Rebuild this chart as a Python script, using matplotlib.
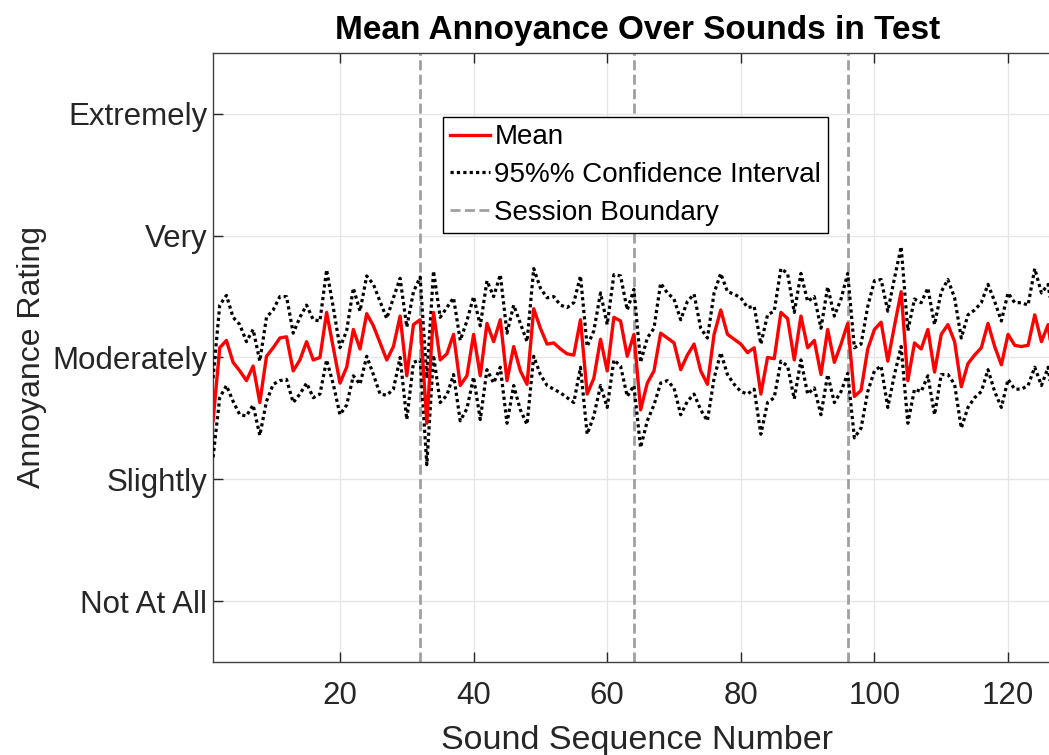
import numpy as np
import matplotlib
matplotlib.use("Agg")
import matplotlib.pyplot as plt

plt.rcParams['font.family'] = ['Liberation Sans', 'DejaVu Sans']

rating_labels = ["Not At All", "Slightly", "Moderately", "Very", "Extremely"]
session_bounds = [32, 64, 96]

mean_rating = [
    1.48, 2.08, 2.14, 1.96, 1.89, 1.81, 1.93, 1.63, 2.01, 2.08,
    2.16, 2.17, 1.89, 1.98, 2.13, 1.98, 2.00, 2.37, 2.08, 1.79,
    1.92, 2.23, 2.07, 2.36, 2.26, 2.12, 1.98, 2.09, 2.34, 1.85,
    2.27, 2.31, 1.46, 2.37, 1.98, 2.03, 2.19, 1.77, 1.85, 2.19,
    1.85, 2.28, 2.13, 2.31, 1.81, 2.09, 1.89, 1.78, 2.40, 2.24,
    2.11, 2.12, 2.07, 2.03, 2.02, 2.31, 1.70, 1.83, 2.15, 1.89,
    2.33, 2.30, 2.01, 2.19, 1.57, 1.79, 1.89, 2.20, 2.16, 2.12,
    1.90, 2.02, 2.11, 1.89, 1.78, 2.19, 2.39, 2.19, 2.15, 2.11,
    2.04, 2.08, 1.70, 2.00, 1.99, 2.37, 2.32, 1.98, 2.34, 2.08,
    2.14, 1.86, 2.23, 1.96, 2.11, 2.28, 1.68, 1.73, 2.07, 2.23,
    2.29, 1.97, 2.26, 2.54, 1.81, 2.12, 2.07, 2.23, 1.88, 2.19,
    2.27, 2.13, 1.76, 1.95, 2.02, 2.08, 2.28, 2.09, 1.94, 2.19,
    2.10, 2.09, 2.10, 2.35, 2.13, 2.27, 1.86, 2.05,
]

ci_upper = [
    1.83, 2.43, 2.51, 2.33, 2.27, 2.13, 2.23, 1.97, 2.33, 2.39,
    2.50, 2.50, 2.20, 2.33, 2.43, 2.31, 2.30, 2.72, 2.41, 2.08,
    2.22, 2.57, 2.38, 2.67, 2.60, 2.46, 2.32, 2.49, 2.65, 2.25,
    2.54, 2.66, 1.83, 2.71, 2.33, 2.41, 2.49, 2.14, 2.30, 2.50,
    2.26, 2.63, 2.50, 2.68, 2.20, 2.43, 2.28, 2.13, 2.73, 2.57,
    2.49, 2.50, 2.43, 2.41, 2.45, 2.67, 2.09, 2.22, 2.53, 2.27,
    2.68, 2.67, 2.39, 2.56, 1.96, 2.16, 2.24, 2.61, 2.53, 2.48,
    2.31, 2.46, 2.52, 2.24, 2.16, 2.53, 2.69, 2.54, 2.52, 2.49,
    2.41, 2.42, 2.11, 2.35, 2.38, 2.73, 2.69, 2.37, 2.69, 2.46,
    2.50, 2.24, 2.58, 2.34, 2.48, 2.69, 2.08, 2.11, 2.42, 2.63,
    2.64, 2.38, 2.65, 2.91, 2.22, 2.48, 2.45, 2.57, 2.27, 2.54,
    2.64, 2.49, 2.16, 2.35, 2.39, 2.45, 2.60, 2.46, 2.30, 2.53,
    2.45, 2.45, 2.43, 2.73, 2.53, 2.60, 2.22, 2.40,
]

ci_lower = [
    1.18, 1.67, 1.77, 1.64, 1.53, 1.52, 1.61, 1.36, 1.64, 1.78,
    1.81, 1.82, 1.63, 1.70, 1.79, 1.67, 1.70, 1.98, 1.78, 1.53,
    1.61, 1.85, 1.78, 2.01, 1.86, 1.70, 1.69, 1.74, 2.00, 1.49,
    1.96, 1.98, 1.12, 2.02, 1.63, 1.69, 1.86, 1.48, 1.58, 1.84,
    1.49, 1.90, 1.79, 1.92, 1.46, 1.77, 1.57, 1.45, 2.01, 1.86,
    1.77, 1.74, 1.71, 1.67, 1.63, 1.92, 1.37, 1.52, 1.77, 1.59,
    1.98, 1.93, 1.68, 1.77, 1.26, 1.48, 1.61, 1.79, 1.81, 1.75,
    1.53, 1.64, 1.70, 1.57, 1.48, 1.83, 2.04, 1.86, 1.78, 1.72,
    1.70, 1.74, 1.37, 1.63, 1.67, 1.97, 1.93, 1.66, 1.98, 1.70,
    1.75, 1.53, 1.86, 1.63, 1.72, 1.87, 1.34, 1.42, 1.72, 1.89,
    1.93, 1.59, 1.86, 2.09, 1.46, 1.74, 1.72, 1.85, 1.53, 1.86,
    1.86, 1.78, 1.42, 1.59, 1.67, 1.72, 1.90, 1.72, 1.59, 1.82,
    1.74, 1.74, 1.77, 1.92, 1.77, 1.92, 1.52, 1.70,
]

sound_num = np.arange(1, len(mean_rating) + 1)

fig = plt.figure(figsize=(10.49, 7.55), dpi=100)
# axes run past the right edge of the image, like the cropped original
ax = fig.add_axes([0.2031, 0.1232, 0.8088, 0.8066])

ax.grid(True, color='#e6e6e6', linewidth=1)
ax.set_axisbelow(True)

ax.plot(sound_num, mean_rating, color='#ff0000', linewidth=2.4, label='Mean', zorder=4)
ax.plot(sound_num, ci_upper, color='black', linewidth=2.3, dashes=(1, 1),
        label='95%% Confidence Interval', zorder=3)
ax.plot(sound_num, ci_lower, color='black', linewidth=2.3, dashes=(1, 1), zorder=3)
for i, b in enumerate(session_bounds):
    ax.axvline(b, color='#a0a0a0', linewidth=2, dashes=(3.6, 1.6),
               label='Session Boundary' if i == 0 else None, zorder=2)

ax.set_xlim(1, 128)
ax.set_ylim(-0.5, 4.5)
ax.set_xticks(range(20, 121, 20))
ax.set_yticks(range(len(rating_labels)))
ax.set_yticklabels(rating_labels)

ax.tick_params(direction='in', length=7, width=1, colors='#262626',
               labelsize=22.5, top=True, right=True)
ax.tick_params(axis='x', pad=14)
ax.tick_params(axis='y', pad=4)
for s in ax.spines.values():
    s.set_color('#404040')
    s.set_linewidth(1)

ax.set_title('Mean Annoyance Over Sounds in Test', fontsize=24, fontweight='bold', pad=10)
ax.set_xlabel('Sound Sequence Number', fontsize=24.5, color='#262626', labelpad=10)
ax.set_ylabel('Annoyance Rating', fontsize=23, color='#262626', labelpad=4)

leg = fig.legend(loc='upper left', bbox_to_anchor=(0.422, 0.845), fontsize=20,
                 frameon=True, fancybox=False, edgecolor='black', framealpha=1,
                 handlelength=1.45, handletextpad=0.15, labelspacing=0.43,
                 borderpad=0.26, borderaxespad=0)
leg.get_frame().set_linewidth(1)

fig.savefig('out.png', dpi=100)
